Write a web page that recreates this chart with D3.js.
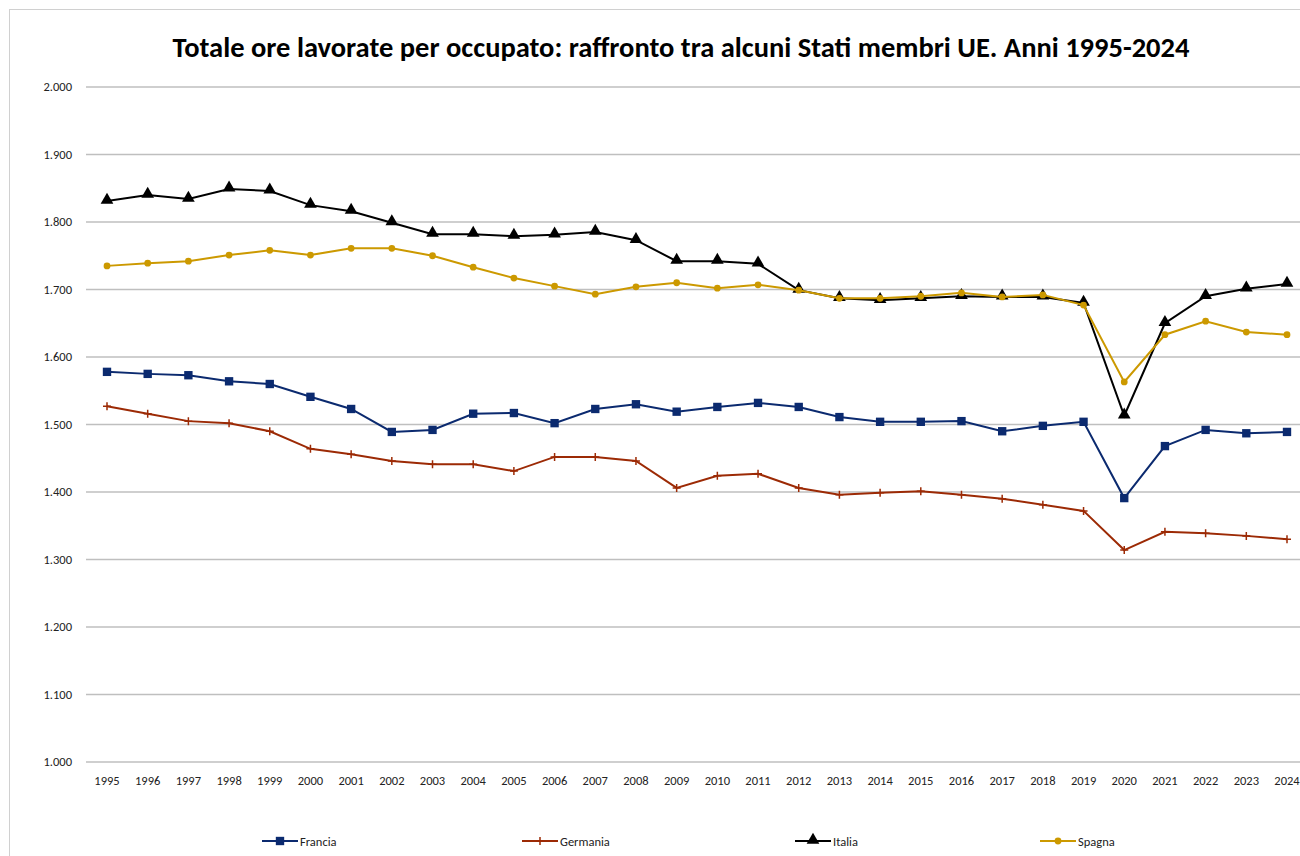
<!DOCTYPE html>
<html>
<head>
<meta charset="utf-8">
<title>Ore lavorate per occupato</title>
<script src="https://cdn.jsdelivr.net/npm/d3@7"></script>
<style>
  body { margin: 0; background: #fff; }
  text { font-family: Calibri, Carlito, Lato, sans-serif; }
</style>
</head>
<body>
<svg id="chart" width="1300" height="856"></svg>
<script>
const years = d3.range(1995, 2025).map(String);
const yTicks = [1000, 1100, 1200, 1300, 1400, 1500, 1600, 1700, 1800, 1900, 2000];

const francia = [1578, 1575, 1573, 1564, 1560, 1541, 1523, 1489, 1492, 1516,
                 1517, 1502, 1523, 1530, 1519, 1526, 1532, 1526, 1511, 1504,
                 1504, 1505, 1490, 1498, 1504, 1391, 1468, 1492, 1487, 1489];
const germania = [1527, 1516, 1505, 1502, 1490, 1464, 1456, 1446, 1441, 1441,
                  1431, 1452, 1452, 1446, 1406, 1424, 1427, 1406, 1396, 1399,
                  1401, 1396, 1390, 1381, 1372, 1314, 1341, 1339, 1335, 1330];
const italia = [1831, 1840, 1834, 1849, 1846, 1825, 1816, 1799, 1782, 1782,
                1779, 1781, 1785, 1773, 1742, 1742, 1738, 1699, 1687, 1684,
                1687, 1690, 1689, 1689, 1680, 1513, 1650, 1690, 1701, 1708];
const spagna = [1735, 1739, 1742, 1751, 1758, 1751, 1761, 1761, 1750, 1733,
                1717, 1705, 1693, 1704, 1710, 1702, 1707, 1699, 1687, 1687,
                1690, 1695, 1689, 1692, 1677, 1563, 1633, 1653, 1637, 1633];

const series = [
  {name: "Francia", values: francia, color: "#0b2a6f", marker: "square"},
  {name: "Germania", values: germania, color: "#9c2a05", marker: "plus"},
  {name: "Italia", values: italia, color: "#000000", marker: "triangle"},
  {name: "Spagna", values: spagna, color: "#cc9900", marker: "circle"}
];

const svg = d3.select("#chart");

// outer chart border
svg.append("rect")
  .attr("x", 9.5).attr("y", 9.5)
  .attr("width", 1320).attr("height", 880)
  .attr("fill", "none").attr("stroke", "#d0d0d0");

const x = d3.scalePoint().domain(years).range([107, 1287]);
const y = d3.scaleLinear().domain([1000, 2000]).range([762, 87]);

svg.append("text")
  .attr("x", 681).attr("y", 57)
  .attr("text-anchor", "middle")
  .attr("font-size", 28.5).attr("font-weight", "bold")
  .text("Totale ore lavorate per occupato: raffronto tra alcuni Stati membri UE. Anni 1995-2024");

// gridlines
svg.append("g")
  .selectAll("line")
  .data(yTicks)
  .join("line")
  .attr("x1", 86).attr("x2", 1307)
  .attr("y1", d => y(d)).attr("y2", d => y(d))
  .attr("stroke", "#bfbfbf").attr("stroke-width", 1.5);

// italian number format: 2.000
const fmtTick = d3.formatLocale({decimal: ",", thousands: ".", grouping: [3]}).format(",d");

svg.append("g")
  .selectAll("text")
  .data(yTicks)
  .join("text")
  .attr("x", 72).attr("y", d => y(d) + 4)
  .attr("text-anchor", "end")
  .attr("font-size", 12.5).attr("fill", "#222")
  .text(fmtTick);

svg.append("g")
  .selectAll("text")
  .data(years)
  .join("text")
  .attr("x", d => x(d)).attr("y", 785)
  .attr("text-anchor", "middle")
  .attr("font-size", 12.5).attr("fill", "#222")
  .text(d => d);

const symbols = {
  square: d3.symbol(d3.symbolSquare, 70),
  triangle: d3.symbol(d3.symbolTriangle, 70),
  circle: d3.symbol(d3.symbolCircle, 36)
};

function drawMarker(g, s) {
  if (s.marker === "plus") {
    g.append("path")
      .attr("d", "M-4,0H4M0,-4V4")
      .attr("stroke", s.color).attr("stroke-width", 1.5).attr("fill", "none");
  } else {
    g.append("path")
      .attr("d", symbols[s.marker]())
      .attr("fill", s.color)
      .attr("transform", s.marker === "triangle" ? "translate(0,-1)" : null);
  }
}

const line = d3.line().x((d, i) => x(years[i])).y(d => y(d));

series.forEach(s => {
  const g = svg.append("g");
  g.append("path")
    .datum(s.values)
    .attr("d", line)
    .attr("fill", "none")
    .attr("stroke", s.color)
    .attr("stroke-width", 2);
  s.values.forEach((v, i) => {
    const m = g.append("g").attr("transform", `translate(${x(years[i])},${y(v)})`);
    drawMarker(m, s);
  });
});

// legend
const legendX = [262, 522, 795, 1040];
const legend = svg.append("g");
series.forEach((s, i) => {
  const lg = legend.append("g").attr("transform", `translate(${legendX[i]},841)`);
  lg.append("line").attr("x1", 0).attr("x2", 36)
    .attr("stroke", s.color).attr("stroke-width", 2);
  const m = lg.append("g").attr("transform", "translate(18,0)");
  drawMarker(m, s);
  lg.append("text").attr("x", 38).attr("y", 4.5)
    .attr("font-size", 12.5).attr("fill", "#222")
    .text(s.name);
});
</script>
</body>
</html>
